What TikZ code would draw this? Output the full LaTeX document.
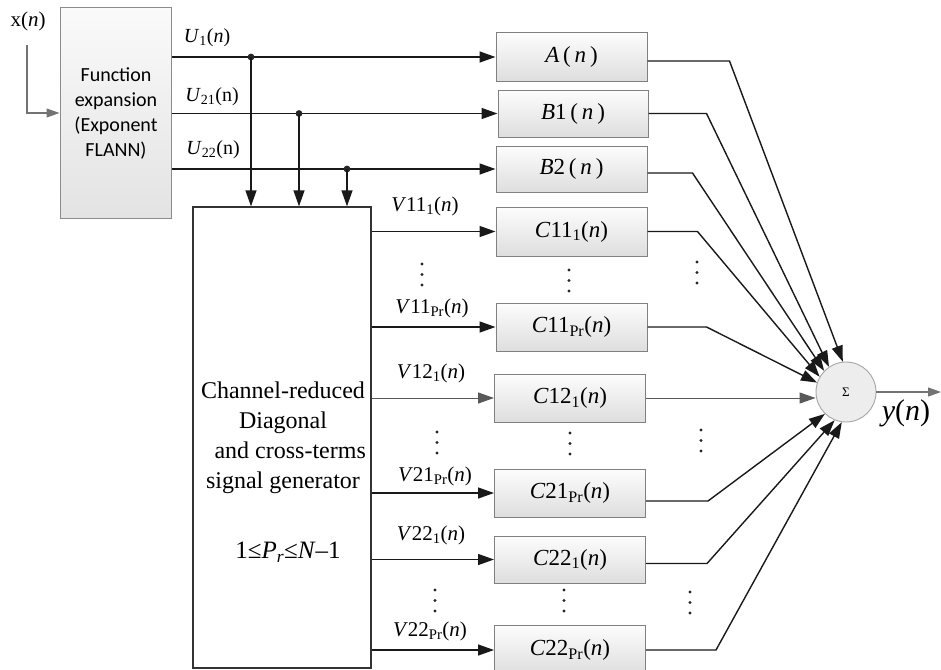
\documentclass[tikz,border=0pt]{standalone}
\usepackage{fontspec}
\setmainfont{Liberation Serif}
\newfontfamily\calib{Carlito}
\usetikzlibrary{arrows.meta}
\begin{document}
\begin{tikzpicture}[x=1pt,y=-1pt,
  blk/.style={draw=black!50, line width=1pt, top color=white!99!black, bottom color=white!87!black,
    minimum width=151pt, minimum height=48pt, inner sep=0pt, font=\fontsize{23}{26}\selectfont},
  wire/.style={draw=black!90, line width=1.4pt},
  arr/.style={wire, -{Triangle[length=16pt,width=11pt]}},
  thinarr/.style={draw=black!65, line width=1pt, -{Triangle[length=16pt,width=11pt]}},
  garr/.style={draw=black!55, line width=1.2pt, -{Triangle[length=13pt,width=9pt]}},
  lbl/.style={inner sep=0pt, font=\fontsize{21}{24}\selectfont},
  ulbl/.style={inner sep=0pt, font=\fontsize{20}{22}\selectfont},
  dotc/.style={fill=black!85}
]
\useasboundingbox (0,0) rectangle (941,669);

% main boxes
\node[draw=black!45, line width=1pt, top color=white!98!black, bottom color=white!89!black,
  minimum width=111pt, minimum height=210pt, inner sep=0pt] (fe) at (115.5,113) {};
\node[font=\calib\fontsize{20}{25}\selectfont, align=center, inner sep=0pt] (fetxt) at (116,113.5)
  {Function\\expansion\\(Exponent\\FLANN)};
\node[draw=black!80, line width=1.4pt, fill=white, minimum width=178pt, minimum height=461pt, inner sep=0pt]
  (gen) at (282,437.5) {};
\node[font=\fontsize{24}{30}\selectfont, align=center, inner sep=0pt] (gentxt) at (283,438)
  {Channel-reduced\\Diagonal\\\hspace*{0.6em}and cross-terms\\signal generator};
\node[font=\fontsize{25}{30}\selectfont, inner sep=0pt] (ineq) at (288,552)
  {1≤\textit{P}\textsubscript{\textit{r}}≤\textit{N}–1};

% blocks
\node[blk] (A)    at (571.5,57)  {\textit{A}\,(\,\textit{n}\,)};
\node[blk, minimum width=150pt, minimum height=47pt] (B1) at (573,113.5) {\textit{B}1\,(\,\textit{n}\,)};
\node[blk, minimum height=46pt] (B2)   at (571.5,169) {\textit{B}2\,(\,\textit{n}\,)};
\node[blk, minimum height=49pt] (C111) at (571.5,231.5) {\textit{C}11\textsubscript{1}(\textit{n})};
\node[blk] (C11P) at (571.5,327) {\textit{C}11\textsubscript{Pr}(\textit{n})};
\node[blk] (C121) at (570,398)   {\textit{C}12\textsubscript{1}(\textit{n})};
\node[blk] (C21P) at (570,493)   {\textit{C}21\textsubscript{Pr}(\textit{n})};
\node[blk, minimum height=47pt] (C221) at (570,559.5) {\textit{C}22\textsubscript{1}(\textit{n})};
\node[blk, minimum height=50pt] (C22P) at (570,650)   {\textit{C}22\textsubscript{Pr}(\textit{n})};

% summing node
\node[circle, draw=black!35, line width=0.9pt, fill=white!93!black, minimum size=60pt, inner sep=0pt,
  font=\fontsize{13}{13}\selectfont] (sum) at (846,392) {Σ};

% input x(n)
\node[ulbl, font=\fontsize{21}{24}\selectfont] (xlbl) at (28,21) {x(\textit{n})};
\coordinate (xin) at (27,45);
\draw[garr] (xin) |- (fe.west);

% U outputs of function expansion
\coordinate (c1) at (251,0);
\coordinate (c2) at (299,0);
\coordinate (c3) at (347,0);
\draw[arr] (fe.east |- A) -- (A.west);
\draw[arr] (fe.east |- B1) -- (B1.west);
\draw[arr] (fe.east |- B2) -- (B2.west);
\fill[dotc] (c1 |- A) circle (3.4pt);
\fill[dotc] (c2 |- B1) circle (3.4pt);
\fill[dotc] (c3 |- B2) circle (3.4pt);
\draw[arr] (c1 |- A) -- (c1 |- gen.north);
\draw[arr] (c2 |- B1) -- (c2 |- gen.north);
\draw[arr] (c3 |- B2) -- (c3 |- gen.north);
\node[ulbl] (u1) at (207,38) {\textit{U}\textsubscript{1}(\textit{n})};
\node[ulbl] (u21) at (212,97) {\textit{U}\textsubscript{21}(n)};
\node[ulbl] (u22) at (213,150) {\textit{U}\textsubscript{22}(n)};

% V signals
\draw[arr] (gen.east |- C111) -- (C111.west);
\draw[arr] (gen.east |- C11P) -- (C11P.west);
\draw[thinarr] (gen.east |- C121) -- (C121.west);
\draw[arr] (gen.east |- C21P) -- (C21P.west);
\draw[arr] (gen.east |- C221) -- (C221.west);
\draw[arr] (gen.east |- C22P) -- (C22P.west);
\node[lbl] (v111) at (425,206) {\textit{V}11\textsubscript{1}(\textit{n})};
\node[lbl] (v11p) at (432,308) {\textit{V}11\textsubscript{Pr}(\textit{n})};
\node[lbl] (v121) at (431,373) {\textit{V}12\textsubscript{1}(\textit{n})};
\node[lbl] (v21p) at (435,476) {\textit{V}21\textsubscript{Pr}(\textit{n})};
\node[lbl] (v221) at (431,535) {\textit{V}22\textsubscript{1}(\textit{n})};
\node[lbl] (v22p) at (430,631) {\textit{V}22\textsubscript{Pr}(\textit{n})};

% to the summing node
\draw[arr] ([yshift=-4pt]A.east) -- ++(82,0) -- (sum.96);
\draw[arr] (B1.east) -- ++(58,0) -- (sum.124);
\draw[arr] ([yshift=-4pt]B2.east) -- ++(45,0) -- (sum.136);
\draw[arr] (C111.east) -- ++(50,0) -- (sum.150);
\draw[arr] (C11P.east) -- ++(59,0) -- (sum.162);
\draw[thinarr] (C121.east) -- (C121.east -| sum.west);
\draw[arr] ([yshift=-8pt]C21P.east) -- ++(62,0) -- (sum.226);
\draw[arr] ([yshift=-4pt]C221.east) -- ++(61,0) -- (sum.248);
\draw[arr] (C22P.east) -- ++(70,0) -- (sum.262);

% output
\coordinate (yout) at (941,392);
\draw[garr] (sum.east) -- (yout);
\node[inner sep=0pt, font=\fontsize{30}{32}\selectfont] (ylbl) at (906,413) {\textit{y}(\textit{n})};

% vertical ellipses
\foreach \x/\y in {422/264, 569/270, 697/262, 437/432, 570/433, 701/430, 435/590, 564/590, 690/592}
  \foreach \k in {0,1,2}
    \fill[dotc] (\x,\y+10.5*\k) circle (1.6pt);
\end{tikzpicture}
\end{document}
